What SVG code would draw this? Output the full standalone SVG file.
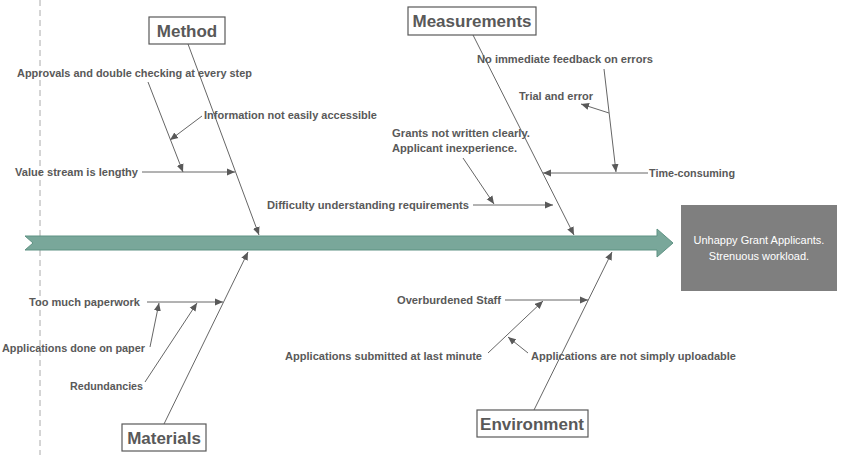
<svg xmlns="http://www.w3.org/2000/svg" width="842" height="455" viewBox="0 0 842 455">
<style>
.hdr rect{fill:#fff;stroke:#595959;stroke-width:1.2}
.hdr text{font-family:"Liberation Sans",Arial,sans-serif;font-weight:bold;font-size:17px;fill:#595959;text-anchor:middle}
.lbl{font-family:"Liberation Sans",Arial,sans-serif;font-weight:bold;font-size:11px;fill:#595959}
.cn line{stroke:#666;stroke-width:1;marker-end:url(#ah)}
.eff text{font-family:"Liberation Sans",Arial,sans-serif;font-size:11px;fill:#fff;text-anchor:middle}
</style>
<defs>
<marker id="ah" markerUnits="userSpaceOnUse" markerWidth="9" markerHeight="8" refX="8" refY="4" orient="auto">
<path d="M0,0.5 L8,4 L0,7.5 z" fill="#595959"/>
</marker>
</defs>
<rect width="842" height="455" fill="#fff"/>
<line x1="40" y1="0" x2="40" y2="455" stroke="#aaa" stroke-width="1" stroke-dasharray="6,4"/>
<g id="spine">
<polygon points="25,236 657,236 657,229 673,243 657,257 657,250 25,250 33,243" fill="#79a79a" stroke="#5f9283" stroke-width="1"/>
</g>
<g id="effect" class="eff">
<rect x="681" y="205" width="156" height="86" fill="#7f7f7f"/>
<text x="759" y="244">Unhappy Grant Applicants.</text>
<text x="759" y="260">Strenuous workload.</text>
</g>
<g id="connectors" class="cn">
<line x1="188" y1="44" x2="259" y2="235"/>
<line x1="473" y1="35" x2="574" y2="235"/>
<line x1="164" y1="424" x2="248" y2="252"/>
<line x1="534" y1="410" x2="612" y2="252"/>
<line x1="148" y1="82" x2="183" y2="172"/>
<line x1="202" y1="116" x2="170" y2="140"/>
<line x1="142" y1="172" x2="235" y2="172"/>
<line x1="473" y1="205" x2="553" y2="205"/>
<line x1="463" y1="158" x2="494" y2="204"/>
<line x1="604" y1="69" x2="616" y2="172"/>
<line x1="609" y1="113" x2="581" y2="104"/>
<line x1="648" y1="173" x2="543" y2="173"/>
<line x1="147" y1="302" x2="223" y2="302"/>
<line x1="150" y1="347" x2="159" y2="303"/>
<line x1="145" y1="382" x2="197" y2="303"/>
<line x1="505" y1="300" x2="588" y2="300"/>
<line x1="488" y1="353" x2="543" y2="301"/>
<line x1="528" y1="353" x2="508" y2="337"/>
</g>
<g id="method" class="hdr"><rect x="149" y="17" width="76" height="27"/><text x="187" y="37">Method</text></g>
<g id="measurements" class="hdr"><rect x="408" y="7" width="128" height="28"/><text x="472" y="27">Measurements</text></g>
<g id="materials" class="hdr"><rect x="122" y="424" width="84" height="27"/><text x="164" y="444">Materials</text></g>
<g id="environment" class="hdr"><rect x="477" y="410" width="111" height="27"/><text x="532" y="430">Environment</text></g>
<g id="c-approvals"><text class="lbl" x="17" y="77" textLength="235" lengthAdjust="spacingAndGlyphs">Approvals and double checking at every step</text></g>
<g id="c-info"><text class="lbl" x="204" y="119" textLength="173" lengthAdjust="spacingAndGlyphs">Information not easily accessible</text></g>
<g id="c-value"><text class="lbl" x="15" y="176" textLength="123" lengthAdjust="spacingAndGlyphs">Value stream is lengthy</text></g>
<g id="c-difficulty"><text class="lbl" x="267" y="209" textLength="202" lengthAdjust="spacingAndGlyphs">Difficulty understanding requirements</text></g>
<g id="c-grants"><text class="lbl" x="392" y="137" textLength="138" lengthAdjust="spacingAndGlyphs">Grants not written clearly.</text><text class="lbl" x="392" y="152" textLength="125" lengthAdjust="spacingAndGlyphs">Applicant inexperience.</text></g>
<g id="c-feedback"><text class="lbl" x="477" y="63" textLength="176" lengthAdjust="spacingAndGlyphs">No immediate feedback on errors</text></g>
<g id="c-trial"><text class="lbl" x="519" y="100" textLength="74" lengthAdjust="spacingAndGlyphs">Trial and error</text></g>
<g id="c-time"><text class="lbl" x="649" y="177" textLength="86" lengthAdjust="spacingAndGlyphs">Time-consuming</text></g>
<g id="c-paperwork"><text class="lbl" x="29" y="306" textLength="111" lengthAdjust="spacingAndGlyphs">Too much paperwork</text></g>
<g id="c-paper"><text class="lbl" x="2" y="352" textLength="143" lengthAdjust="spacingAndGlyphs">Applications done on paper</text></g>
<g id="c-redund"><text class="lbl" x="70" y="390" textLength="73" lengthAdjust="spacingAndGlyphs">Redundancies</text></g>
<g id="c-staff"><text class="lbl" x="397" y="304" textLength="104" lengthAdjust="spacingAndGlyphs">Overburdened Staff</text></g>
<g id="c-lastmin"><text class="lbl" x="285" y="360" textLength="197" lengthAdjust="spacingAndGlyphs">Applications submitted at last minute</text></g>
<g id="c-upload"><text class="lbl" x="531" y="360" textLength="205" lengthAdjust="spacingAndGlyphs">Applications are not simply uploadable</text></g>
</svg>
